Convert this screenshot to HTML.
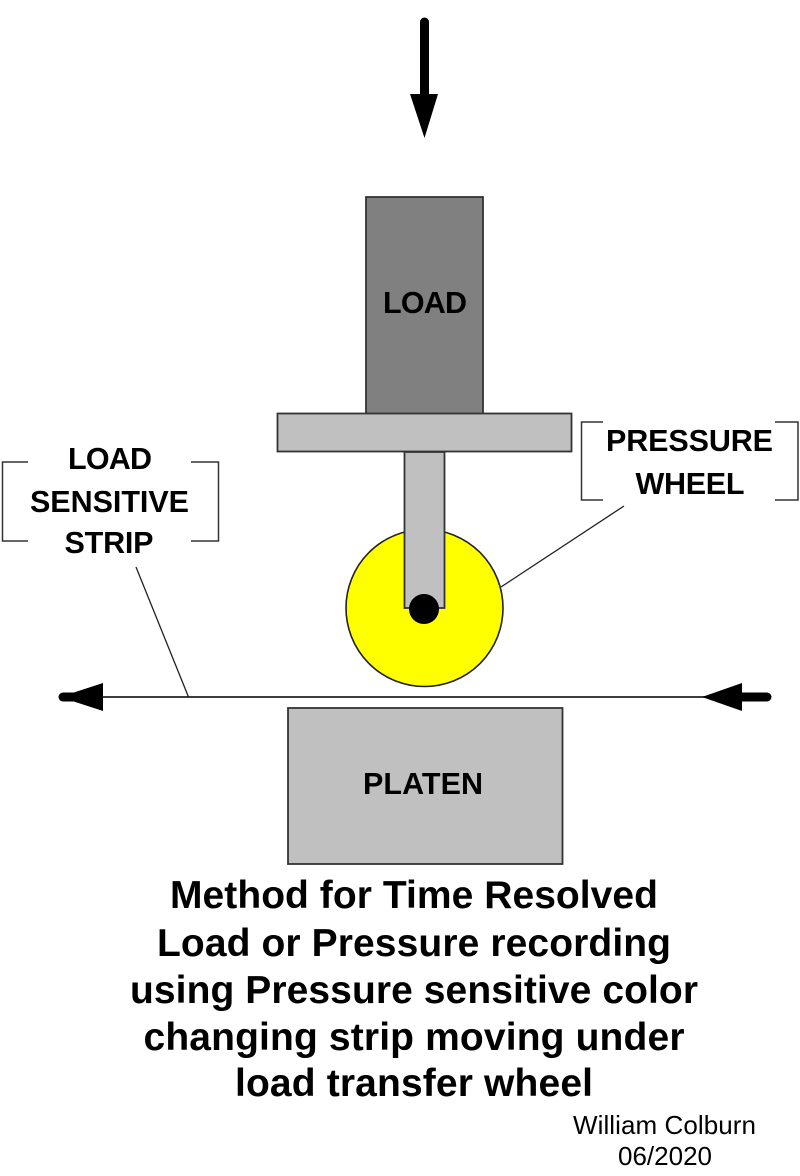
<!DOCTYPE html>
<html><head><meta charset="utf-8"><style>
html,body{margin:0;padding:0;background:#fff}
svg{display:block}
text{font-family:"Liberation Sans",Arial,sans-serif;fill:#000;text-anchor:middle}
.b{font-weight:bold;font-size:30.5px}
.t{font-weight:bold;font-size:39px}
.s{font-size:26px}
</style></head><body>
<svg width="800" height="1176" viewBox="0 0 800 1176" xmlns="http://www.w3.org/2000/svg">
<rect width="800" height="1176" fill="#fff"/>
<!-- top arrow -->
<line x1="424.5" y1="22" x2="424.5" y2="100" stroke="#000" stroke-width="9" stroke-linecap="round"/>
<polygon points="410,94 438,94 424.5,138" fill="#000"/>
<!-- load -->
<rect x="366" y="197" width="117" height="217" fill="#808080" stroke="#333" stroke-width="1.8"/>
<text class="b" x="425" y="313" textLength="84">LOAD</text>
<!-- wheel -->
<circle cx="424.500" cy="608" r="78.500" fill="#ff0" stroke="#222" stroke-width="1.6"/>
<!-- cross bar -->
<rect x="277.500" y="413.500" width="294" height="38" fill="#c0c0c0" stroke="#333" stroke-width="1.8"/>
<!-- stem -->
<rect x="404.500" y="452" width="40" height="156" fill="#c0c0c0" stroke="#333" stroke-width="1.8"/>
<circle cx="424" cy="609" r="15" fill="#000"/>
<!-- strip -->
<line x1="100" y1="697" x2="710" y2="697" stroke="#222" stroke-width="1.8"/>
<line x1="63" y1="697" x2="85" y2="697" stroke="#000" stroke-width="9" stroke-linecap="round"/>
<polygon points="103,683 103,711 60,697" fill="#000"/>
<line x1="740" y1="697" x2="767" y2="697" stroke="#000" stroke-width="9" stroke-linecap="round"/>
<polygon points="742,683 742,711 702,697" fill="#000"/>
<!-- platen -->
<rect x="288" y="708" width="274.500" height="156" fill="#c0c0c0" stroke="#333" stroke-width="1.8"/>
<text class="b" x="423" y="794" textLength="120">PLATEN</text>
<!-- left label -->
<path d="M28 462H2.500V541H28M191 462H218.500V541H191" fill="none" stroke="#333" stroke-width="1.500"/>
<text class="b" x="110" y="469" textLength="84">LOAD</text>
<text class="b" x="109.500" y="512" textLength="159">SENSITIVE</text>
<text class="b" x="109" y="553" textLength="89">STRIP</text>
<line x1="136" y1="567" x2="188.500" y2="697" stroke="#222" stroke-width="1.300"/>
<!-- right label -->
<path d="M603 422H581.500V500H603M775 422H798V500H775" fill="none" stroke="#333" stroke-width="1.500"/>
<text class="b" x="689.500" y="451" textLength="167">PRESSURE</text>
<text class="b" x="690" y="494" textLength="109">WHEEL</text>
<line x1="624" y1="506" x2="501" y2="587" stroke="#222" stroke-width="1.300"/>
<!-- title -->
<text class="t" x="414" y="908" textLength="488">Method for Time Resolved</text>
<text class="t" x="414" y="956" textLength="514">Load or Pressure recording</text>
<text class="t" x="414" y="1003" textLength="568">using Pressure sensitive color</text>
<text class="t" x="414" y="1050" textLength="541">changing strip moving under</text>
<text class="t" x="414" y="1096" textLength="358">load transfer wheel</text>
<!-- credit -->
<text class="s" x="664.500" y="1134" textLength="183">William Colburn</text>
<text class="s" x="665" y="1165" textLength="94">06/2020</text>
</svg>
</body></html>
